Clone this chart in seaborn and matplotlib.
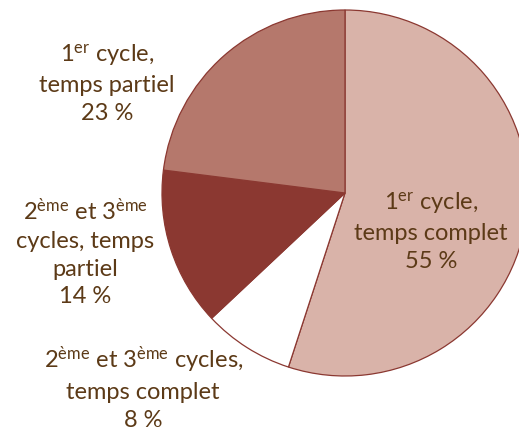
import matplotlib
matplotlib.use("Agg")
import matplotlib.pyplot as plt
import seaborn as sns

sns.set_theme(style="white")
plt.rcParams['font.family'] = ['Lato', 'DejaVu Sans']
plt.rcParams['mathtext.fontset'] = 'custom'
plt.rcParams['mathtext.rm'] = 'Lato'
plt.rcParams['mathtext.it'] = 'Lato:italic'
plt.rcParams['mathtext.bf'] = 'Lato:bold'

# data
categories = ["1er cycle, temps complet", "2ème et 3ème cycles, temps complet",
              "2ème et 3ème cycles, temps partiel", "1er cycle, temps partiel"]
shares = [55, 8, 14, 23]
labels = [
    "1$^{\\mathrm{er}}$ cycle,\ntemps complet\n55 %",
    "2$^{\\mathrm{ème}}$ et 3$^{\\mathrm{ème}}$ cycles,\ntemps complet\n8 %",
    "2$^{\\mathrm{ème}}$ et 3$^{\\mathrm{ème}}$\ncycles, temps\npartiel\n14 %",
    "1$^{\\mathrm{er}}$ cycle,\ntemps partiel\n23 %",
]
colors = sns.color_palette(["#d9b3a9", "#ffffff", "#8b3831", "#b5786c"])
# label centres in figure fractions
label_pos = [(0.830, 0.462), (0.276, 0.098), (0.164, 0.413), (0.206, 0.807)]

text_color = "#5c3a17"
edge_color = "#8b3831"

fig = plt.figure(figsize=(5.19, 4.30), dpi=100)
ax = fig.add_axes([162 / 519, 54 / 430, 366 / 519, 366 / 430])
wedges, _ = ax.pie(shares, colors=colors, startangle=90, counterclock=False,
                   radius=1.0, wedgeprops=dict(edgecolor=edge_color, linewidth=0.9))
for w in wedges:
    w.set_clip_on(False)
ax.set_xlim(-1, 1)
ax.set_ylim(-1, 1)
ax.set_aspect("equal")
ax.axis("off")

for lab, (x, y) in zip(labels, label_pos):
    fig.text(x, y, lab, ha="center", va="center", fontsize=17,
             color=text_color, linespacing=1.4)

fig.savefig("out.png", dpi=100)
